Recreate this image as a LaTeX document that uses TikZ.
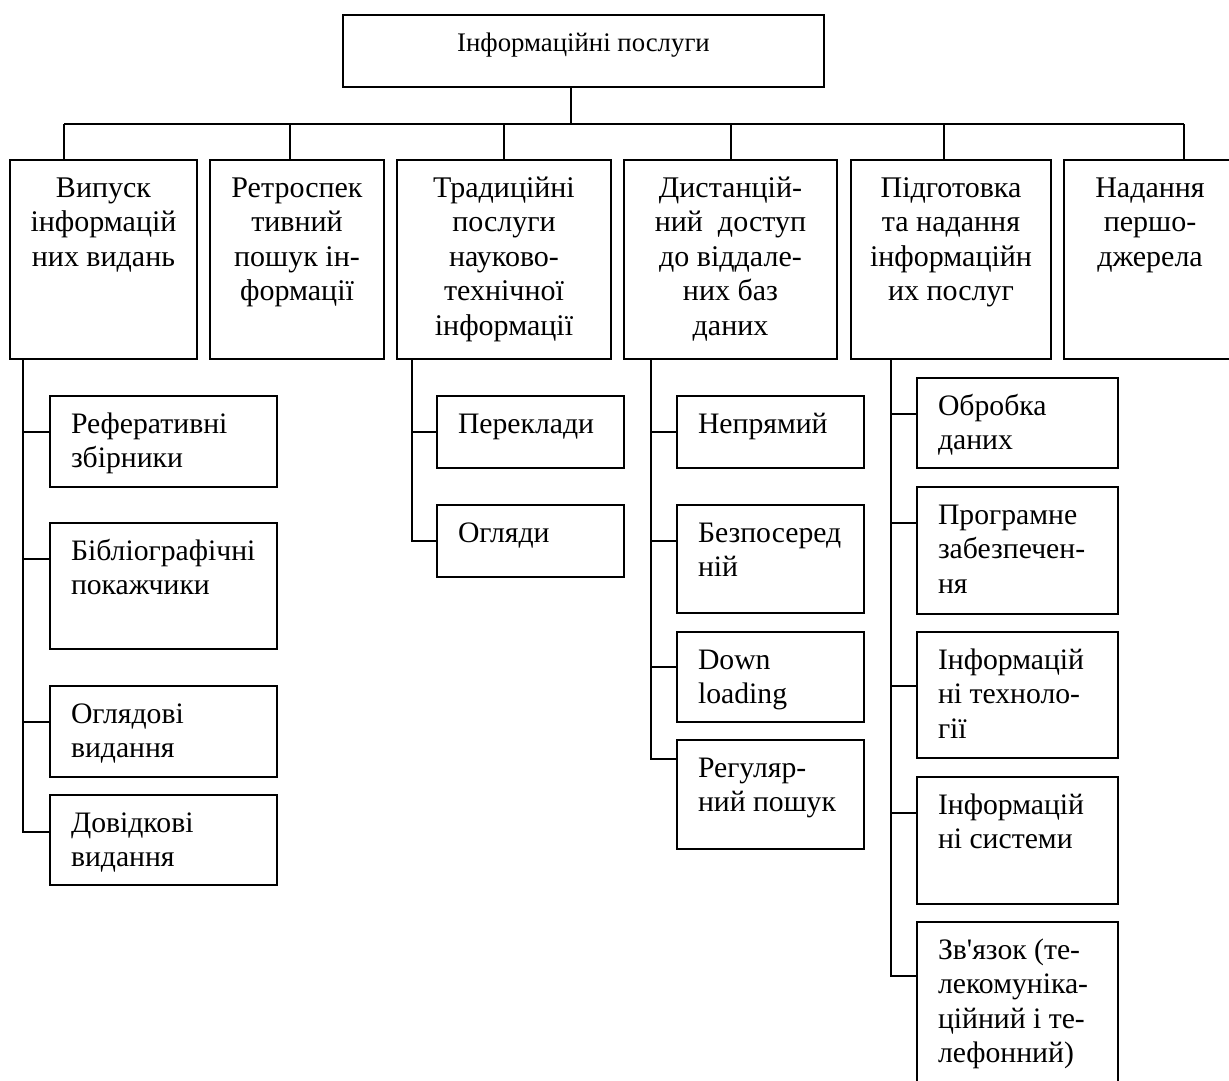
\documentclass[tikz,border=0pt]{standalone}
\usepackage{fontspec}
\setmainfont{Liberation Serif}
\newcommand{\cbox}[3]{\begin{minipage}[t][#2pt][t]{#1pt}\fontsize{30}{34.5}\selectfont\centering\rule{0pt}{37pt}#3\end{minipage}}
\newcommand{\lbox}[3]{\begin{minipage}[t][#2pt][t]{#1pt}\fontsize{29.7}{34.5}\selectfont\raggedright\leftskip=21pt\relax\rule{0pt}{37pt}#3\end{minipage}}
\tikzset{
  box/.style={draw, line width=2.2pt, inner sep=0pt, outer sep=0pt, anchor=north west},
  wire/.style={line width=2pt},
}
\begin{document}
\begin{tikzpicture}[x=1pt,y=-1pt]
\useasboundingbox (0,0) rectangle (1229,1081);
% root
\node[box] (root) at (343,15) {\begin{minipage}[t][72pt][t]{481pt}\fontsize{26.8}{32}\selectfont\centering\rule{0pt}{37pt}Інформаційні послуги\end{minipage}};
% level 1
\node[box] (b1) at (10,160) {\cbox{187}{199}{Випуск\\інформацій\\них видань}};
\node[box] (b2) at (210,160) {\cbox{174}{199}{Ретроспек\\тивний\\пошук ін-\\формації}};
\node[box] (b3) at (397,160) {\cbox{214}{199}{Традиційні\\послуги\\науково-\\технічної\\інформації}};
\node[box] (b4) at (624,160) {\cbox{213}{199}{Дистанцій-\\ний\ \ доступ\\до віддале-\\них баз\\даних}};
\node[box] (b5) at (851,160) {\cbox{200}{199}{Підготовка\\та надання\\інформаційн\\их послуг}};
\node[box] (b6) at (1064,160) {\cbox{172}{199}{Надання\\першо-\\джерела}};
% bus
\coordinate (j0) at (571,124);
\coordinate (j1) at (64,124);
\coordinate (j2) at (290,124);
\coordinate (j3) at (504,124);
\coordinate (j4) at (731,124);
\coordinate (j5) at (944,124);
\coordinate (j6) at (1184,124);
\draw[wire] (root.south -| j0) -- (j0);
\draw[wire] (j1) -- (j6);
\draw[wire] (j1) -- (j1 |- b1.north);
\draw[wire] (j2) -- (j2 |- b2.north);
\draw[wire] (j3) -- (j3 |- b3.north);
\draw[wire] (j4) -- (j4 |- b4.north);
\draw[wire] (j5) -- (j5 |- b5.north);
\draw[wire] (j6) -- (j6 |- b6.north);
% column 1
\node[box] (r1) at (50,396) {\lbox{227}{91}{Реферативні\\збірники}};
\node[box] (r2) at (50,523) {\lbox{227}{126}{Бібліографічні\\покажчики}};
\node[box] (r3) at (50,686) {\lbox{227}{91}{Оглядові\\видання}};
\node[box] (r4) at (50,795) {\lbox{227}{90}{Довідкові\\видання}};
\coordinate (s1a) at (23,432);
\coordinate (s1b) at (23,559);
\coordinate (s1c) at (23,722);
\coordinate (s1d) at (23,832);
\draw[wire] (b1.south -| s1d) -- (s1d) -- (s1d -| r4.west);
\draw[wire] (s1a) -- (s1a -| r1.west);
\draw[wire] (s1b) -- (s1b -| r2.west);
\draw[wire] (s1c) -- (s1c -| r3.west);
% column 3
\node[box] (p1) at (437,396) {\lbox{187}{72}{Переклади}};
\node[box] (p2) at (437,505) {\lbox{187}{72}{Огляди}};
\coordinate (s3a) at (412,432);
\coordinate (s3b) at (412,541);
\draw[wire] (b3.south -| s3b) -- (s3b) -- (s3b -| p2.west);
\draw[wire] (s3a) -- (s3a -| p1.west);
% column 4
\node[box] (n1) at (677,396) {\lbox{187}{72}{Непрямий}};
\node[box] (n2) at (677,505) {\lbox{187}{108}{Безпосеред\\ній}};
\node[box] (n3) at (677,632) {\lbox{187}{90}{Down\\loading}};
\node[box] (n4) at (677,740) {\lbox{187}{109}{Регуляр-\\ний пошук}};
\coordinate (s4a) at (651,432);
\coordinate (s4b) at (651,541);
\coordinate (s4c) at (651,667);
\coordinate (s4d) at (651,759);
\draw[wire] (b4.south -| s4d) -- (s4d) -- (s4d -| n4.west);
\draw[wire] (s4a) -- (s4a -| n1.west);
\draw[wire] (s4b) -- (s4b -| n2.west);
\draw[wire] (s4c) -- (s4c -| n3.west);
% column 5
\node[box] (o1) at (917,378) {\lbox{201}{90}{Обробка\\даних}};
\node[box] (o2) at (917,487) {\lbox{201}{127}{Програмне\\забезпечен-\\ня}};
\node[box] (o3) at (917,632) {\lbox{201}{126}{Інформацій\\ні техноло-\\гії}};
\node[box] (o4) at (917,777) {\lbox{201}{127}{Інформацій\\ні системи}};
\node[box] (o5) at (917,922) {\lbox{201}{164}{Зв\textquotesingle язок (те-\\лекомуніка-\\ційний і те-\\лефонний)}};
\coordinate (s5a) at (891,414);
\coordinate (s5b) at (891,523);
\coordinate (s5c) at (891,686);
\coordinate (s5d) at (891,813);
\coordinate (s5e) at (891,976);
\draw[wire] (b5.south -| s5e) -- (s5e) -- (s5e -| o5.west);
\draw[wire] (s5a) -- (s5a -| o1.west);
\draw[wire] (s5b) -- (s5b -| o2.west);
\draw[wire] (s5c) -- (s5c -| o3.west);
\draw[wire] (s5d) -- (s5d -| o4.west);
\end{tikzpicture}
\end{document}
